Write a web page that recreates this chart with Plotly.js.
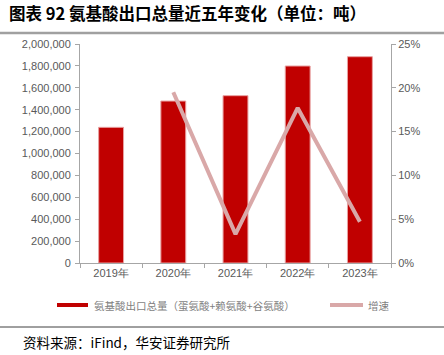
<!DOCTYPE html>
<html><head><meta charset="utf-8">
<script src="https://cdn.plot.ly/plotly-3.0.1.min.js"></script>
<style>html,body{margin:0;padding:0;background:#fff}#c{width:444px;height:355px}</style>
</head><body><div id="c"></div>
<script>
const categories = ["2019年","2020年","2021年","2022年","2023年"];
const exportVolume = [1239000, 1479000, 1528000, 1799000, 1884000];
const growthYears = ["2020年","2021年","2022年","2023年"];
const growthRate = [19.5, 3.3, 17.7, 4.7];
const leftTicks = [0,200000,400000,600000,800000,1000000,1200000,1400000,1600000,1800000,2000000];
const leftTickText = ["0","200,000","400,000","600,000","800,000","1,000,000","1,200,000","1,400,000","1,600,000","1,800,000","2,000,000"];
const rightTicks = [0,5,10,15,20,25];
const rightTickText = ["0%","5%","10%","15%","20%","25%"];
const titleText = "图表 92 氨基酸出口总量近五年变化（单位：吨）";
const legendBar = "氨基酸出口总量（蛋氨酸+赖氨酸+谷氨酸）";
const legendLine = "增速";
const sourceText = "资料来源：iFind，华安证券研究所";

const W=444,H=355,L=80,R=391,T=44,B=263;
const px = x => (x-L)/(R-L);
const py = y => (B-y)/(B-T);
const cjk = '"Noto Sans CJK SC", "Liberation Sans", sans-serif';
const axisColor = '#a6a6a6';
const tickFont = {family:'"Liberation Sans", Arial, sans-serif', size:11, color:'#595959'};

const data = [
 {type:'bar', x:categories, y:exportVolume, name:legendBar, width:0.4,
  marker:{color:'#c00000', line:{color:'#e8a0a0', width:1}}, showlegend:false, hoverinfo:'skip'},
 {type:'scatter', mode:'lines', x:growthYears, y:growthRate, yaxis:'y2', name:legendLine,
  line:{color:'#d9a8a8', width:4}, showlegend:false, hoverinfo:'skip'}
];
const layout = {
 width:W, height:H, margin:{l:L, r:W-R, t:T, b:H-B},
 paper_bgcolor:'#fff', plot_bgcolor:'#fff', bargap:0.6,
 xaxis:{type:'category', categoryorder:'array', categoryarray:categories, range:[-0.5,4.5],
   showline:true, linecolor:axisColor, linewidth:1, ticks:'outside', tickson:'boundaries',
   ticklen:4, tickcolor:axisColor, tickfont:tickFont, showgrid:false, zeroline:false, fixedrange:true},
 yaxis:{range:[0,2000000], tickvals:leftTicks, ticktext:leftTickText, showline:true, linecolor:axisColor,
   ticks:'outside', ticklen:4, tickcolor:axisColor, tickfont:tickFont, showgrid:false, zeroline:false, ticklabelstandoff:2},
 yaxis2:{range:[0,25], overlaying:'y', side:'right', tickvals:rightTicks, ticktext:rightTickText, showline:true,
   linecolor:axisColor, ticks:'outside', ticklen:4, tickcolor:axisColor, tickfont:tickFont, showgrid:false, zeroline:false},
 shapes:[
  {type:'line', xref:'paper', yref:'paper', x0:px(0), x1:px(W), y0:py(33), y1:py(33), line:{color:'#a0a0a0', width:2.5}},
  {type:'line', xref:'paper', yref:'paper', x0:px(0), x1:px(W), y0:py(327), y1:py(327), line:{color:'#404040', width:1}},
  {type:'rect', xref:'paper', yref:'paper', x0:px(57), x1:px(88), y0:py(307), y1:py(303), fillcolor:'#c00000', line:{width:0}},
  {type:'line', xref:'paper', yref:'paper', x0:px(330), x1:px(363), y0:py(305), y1:py(305), line:{color:'#d9a8a8', width:4}}
 ],
 annotations:[
  {xref:'paper', yref:'paper', x:px(7), y:py(13), xanchor:'left', yanchor:'middle', showarrow:false,
   text:'<b>'+titleText+'</b>', font:{family:cjk, size:16.5, color:'#000'}},
  {xref:'paper', yref:'paper', x:px(92), y:py(305), xanchor:'left', yanchor:'middle', showarrow:false,
   text:legendBar, font:{family:cjk, size:10.5, color:'#7f7f7f'}},
  {xref:'paper', yref:'paper', x:px(366), y:py(305), xanchor:'left', yanchor:'middle', showarrow:false,
   text:legendLine, font:{family:cjk, size:10.5, color:'#7f7f7f'}},
  {xref:'paper', yref:'paper', x:px(21), y:py(342), xanchor:'left', yanchor:'middle', showarrow:false,
   text:sourceText, font:{family:cjk, size:13.5, color:'#000'}}
 ]
};
Plotly.newPlot('c', data, layout, {displayModeBar:false, staticPlot:true});
</script></body></html>
